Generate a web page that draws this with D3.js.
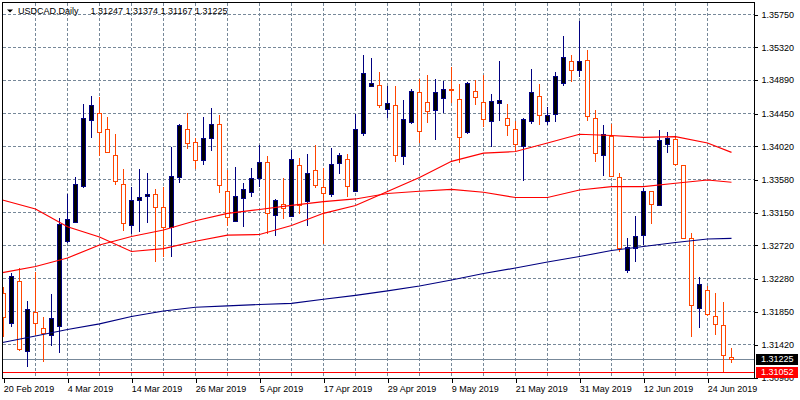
<html>
<head>
<script src="https://cdnjs.cloudflare.com/ajax/libs/d3/7.8.5/d3.min.js"></script>
<style>
  body { margin: 0; background: #fff; }
  text { font-family: "Liberation Sans", Arial, sans-serif; font-size: 9px; }
</style>
</head>
<body>
<script>

// ---- data (USDCAD daily, 20 Feb - 27 Jun 2019) ----
var opens = [1.32085,1.31692,1.32247,1.31324,1.31836,1.31626,1.31534,1.31660,1.32762,1.33017,
             1.33484,1.34350,1.34447,1.34237,1.33896,1.33516,1.32972,1.33313,1.33353,1.33384,
             1.33218,1.32951,1.33615,1.34237,1.34067,1.33830,1.34114,1.34303,1.33424,1.33034,
             1.33332,1.33405,1.33594,1.33804,1.33109,1.33253,1.33096,1.33765,1.33287,1.33699,
             1.33476,1.33379,1.33791,1.33844,1.33424,1.34185,1.34801,1.34814,1.34500,1.34552,
             1.33883,1.34337,1.34723,1.34591,1.34486,1.34657,1.34766,1.34631,1.34193,1.34736,
             1.34591,1.34342,1.34578,1.34382,1.34237,1.34022,1.34342,1.34670,1.34342,1.34434,
             1.34854,1.35129,1.35011,1.35142,1.34382,1.33909,1.34149,1.33607,1.32387,1.32676,
             1.32846,1.33424,1.33244,1.34053,1.34110,1.33765,1.32807,1.31888,1.32125,1.31784,
             1.31665,1.31247];
var highs = [1.32172,1.32356,1.32421,1.31984,1.32361,1.31778,1.32076,1.33069,1.33384,1.33607,
             1.34569,1.34674,1.34657,1.34395,1.34175,1.33712,1.33476,1.33716,1.33660,1.33454,
             1.33476,1.34001,1.34307,1.34455,1.34119,1.34395,1.34517,1.34425,1.33703,1.33746,
             1.33529,1.33729,1.34027,1.33887,1.33323,1.33598,1.33966,1.33865,1.33913,1.34027,
             1.33729,1.33992,1.33922,1.33913,1.34438,1.35212,1.35169,1.34989,1.34805,1.34805,
             1.34622,1.34766,1.34901,1.34946,1.34893,1.34871,1.35055,1.34832,1.34862,1.34884,
             1.34946,1.34700,1.35133,1.34565,1.34342,1.34389,1.35028,1.34832,1.34526,1.34993,
             1.35461,1.35212,1.35662,1.35278,1.34490,1.34294,1.34307,1.33668,1.32811,1.33100,
             1.33463,1.33432,1.34228,1.34202,1.34149,1.33773,1.32873,1.32303,1.32185,1.32085,
             1.31971,1.31374];
var lows  = [1.31508,1.31639,1.31332,1.31122,1.31538,1.31188,1.31398,1.31306,1.32741,1.33004,
             1.33471,1.34127,1.33891,1.33922,1.33510,1.32907,1.32863,1.32894,1.33012,1.32500,
             1.32566,1.32566,1.33529,1.33975,1.33720,1.33769,1.33956,1.33405,1.32968,1.33025,
             1.32959,1.33353,1.33484,1.32863,1.32841,1.33060,1.33090,1.33130,1.32972,1.33463,
             1.32732,1.33345,1.33651,1.33353,1.33414,1.34149,1.34796,1.34521,1.34382,1.33812,
             1.33773,1.34311,1.34061,1.34324,1.34093,1.34447,1.34586,1.33799,1.34175,1.34556,
             1.34271,1.34009,1.34350,1.34149,1.33956,1.33563,1.34311,1.34298,1.34290,1.34337,
             1.34809,1.34854,1.34927,1.34350,1.33812,1.33628,1.33611,1.32623,1.32356,1.32500,
             1.32719,1.32999,1.33235,1.33930,1.33760,1.32794,1.31516,1.31626,1.31788,1.31534,
             1.31052,1.31167];
var closes = [1.31770,1.32312,1.31351,1.31875,1.31692,1.31560,1.31757,1.32995,1.33056,1.33516,
             1.34382,1.34552,1.34198,1.33935,1.33555,1.33004,1.33306,1.33349,1.33384,1.33208,
             1.32959,1.33620,1.34294,1.34053,1.33834,1.34119,1.34303,1.33497,1.33083,1.33362,
             1.33450,1.33594,1.33804,1.33135,1.33306,1.33201,1.33847,1.33244,1.33660,1.33497,
             1.33397,1.33778,1.33896,1.33489,1.34237,1.34972,1.34845,1.34552,1.34578,1.33896,
             1.34368,1.34740,1.34211,1.34473,1.34723,1.34770,1.34758,1.34132,1.34841,1.34657,
             1.34368,1.34605,1.34618,1.34290,1.34035,1.34372,1.34723,1.34421,1.34421,1.34933,
             1.35190,1.35011,1.35129,1.34402,1.33922,1.34179,1.33628,1.32671,1.32689,1.32833,
             1.33424,1.33257,1.34093,1.34127,1.33778,1.32802,1.31928,1.32203,1.31810,1.31679,
             1.31272,1.31225];

// moving averages, read at every 4th bar (and the last one)
var maIdx  = [0,4,8,12,16,20,24,28,32,36,40,44,48,52,56,60,64,68,72,76,80,84,88,91];
var maFast = [1.33310,1.33191,1.32959,1.32824,1.32634,1.32671,1.32768,1.32848,1.32857,1.32975,
              1.33135,1.33237,1.33421,1.33605,1.33817,1.33924,1.33946,1.34057,1.34172,1.34156,
              1.34130,1.34140,1.34057,1.33935];
var maMid  = [1.32356,1.32437,1.32549,1.32719,1.32831,1.32916,1.33037,1.33135,1.33185,1.33240,
              1.33287,1.33323,1.33395,1.33424,1.33450,1.33411,1.33342,1.33342,1.33441,1.33484,
              1.33484,1.33529,1.33572,1.33542];
var maSlow = [1.31440,1.31525,1.31610,1.31683,1.31781,1.31853,1.31902,1.31919,1.31938,1.31954,
              1.32007,1.32059,1.32116,1.32181,1.32260,1.32345,1.32417,1.32496,1.32568,1.32647,
              1.32699,1.32752,1.32798,1.32807];

var priceTicks = [1.35750,1.35320,1.34890,1.34450,1.34020,1.33580,1.33150,1.32720,1.32280,1.31850,1.31420,1.30980];
var dateIdx    = [0,8,16,24,32,40,48,56,64,72,80,88];
var dateLabels = ["20 Feb 2019","4 Mar 2019","14 Mar 2019","26 Mar 2019","5 Apr 2019","17 Apr 2019",
                  "29 Apr 2019","9 May 2019","21 May 2019","31 May 2019","12 Jun 2019","24 Jun 2019"];
var bidPrice  = 1.31225;
var linePrice = 1.31052;
var headerText = "USDCAD,Daily";

// ---- layout ----
var W = 800, H = 400;
var plot = { left: 2.5, top: 2.5, right: 754.5, bottom: 378.5 };

var svg = d3.select("body").append("svg")
    .attr("width", W)
    .attr("height", H);

var x = d3.scaleLinear().domain([0, 91]).range([3.5, 731.5]);
var y = d3.scaleLinear().domain([1.30987, 1.35750]).range([377, 14]);
var py = function(v) { return Math.round(y(v)) + 0.5; };

svg.append("clipPath").attr("id", "plotclip")
   .append("rect")
   .attr("x", plot.left).attr("y", plot.top)
   .attr("width", plot.right - plot.left).attr("height", plot.bottom - plot.top);

var grid = svg.append("g")
    .attr("stroke", "#778899")
    .attr("stroke-dasharray", "3,2")
    .attr("shape-rendering", "crispEdges");

// horizontal grid
grid.selectAll("line.h").data(priceTicks).enter().append("line")
    .attr("x1", plot.left).attr("x2", plot.right)
    .attr("y1", function(d) { return py(d); })
    .attr("y2", function(d) { return py(d); });

// vertical grid, every 4 bars
var vIdx = d3.range(4, 92, 4);
grid.selectAll("line.v").data(vIdx).enter().append("line")
    .attr("x1", function(d) { return x(d); }).attr("x2", function(d) { return x(d); })
    .attr("y1", plot.top).attr("y2", plot.bottom);

var chart = svg.append("g").attr("clip-path", "url(#plotclip)");

// bid line and the red horizontal line
chart.append("line")
    .attr("x1", plot.left).attr("x2", plot.right)
    .attr("y1", py(bidPrice)).attr("y2", py(bidPrice))
    .attr("stroke", "#778899").attr("shape-rendering", "crispEdges");
chart.append("line")
    .attr("x1", plot.left).attr("x2", plot.right)
    .attr("y1", py(linePrice)).attr("y2", py(linePrice))
    .attr("stroke", "#ff0000").attr("shape-rendering", "crispEdges");

// candles
var bars = d3.range(opens.length).map(function(i) {
    return { i: i, o: opens[i], h: highs[i], l: lows[i], c: closes[i], up: closes[i] >= opens[i] };
});

var upCol = "#000080", downCol = "#ff4500";

chart.selectAll("line.wick").data(bars).enter().append("line")
    .attr("x1", function(d) { return x(d.i); }).attr("x2", function(d) { return x(d.i); })
    .attr("y1", function(d) { return Math.round(y(d.h)); })
    .attr("y2", function(d) { return Math.round(y(d.l)); })
    .attr("stroke", function(d) { return d.up ? upCol : downCol; })
    .attr("shape-rendering", "crispEdges");

chart.selectAll("rect.body").data(bars).enter().append("rect")
    .attr("x", function(d) { return x(d.i) - 2; })
    .attr("width", 4)
    .attr("y", function(d) { return Math.round(y(Math.max(d.o, d.c))) + 0.5; })
    .attr("height", function(d) { return Math.max(1, Math.round(Math.abs(y(d.o) - y(d.c)))); })
    .attr("fill", function(d) { return d.up ? "#000000" : "#ffffff"; })
    .attr("stroke", function(d) { return d.up ? upCol : downCol; })
    .attr("shape-rendering", "crispEdges");

// moving averages
var maLine = function(vals) {
    return d3.line()
        .x(function(d, i) { return i === 0 ? plot.left : x(maIdx[i]); })
        .y(function(d) { return y(d); })(vals);
};
chart.append("path").attr("d", maLine(maFast)).attr("fill", "none").attr("stroke", "#ff0000").attr("stroke-width", 1.2);
chart.append("path").attr("d", maLine(maMid)).attr("fill", "none").attr("stroke", "#ff0000").attr("stroke-width", 1.2);
chart.append("path").attr("d", maLine(maSlow)).attr("fill", "none").attr("stroke", "#000080").attr("stroke-width", 1.2);

// frame
svg.append("rect")
    .attr("x", plot.left).attr("y", plot.top)
    .attr("width", plot.right - plot.left).attr("height", plot.bottom - plot.top)
    .attr("fill", "none").attr("stroke", "#000").attr("shape-rendering", "crispEdges");

// right price axis
var yAxis = d3.axisRight(y)
    .tickValues(priceTicks)
    .tickFormat(d3.format(".5f"))
    .tickSize(3)
    .tickPadding(4);
var ya = svg.append("g").attr("transform", "translate(" + plot.right + ",0.5)").call(yAxis);
ya.select(".domain").remove();
ya.selectAll("text").attr("font-family", "Liberation Sans, Arial, sans-serif").attr("font-size", 9).attr("fill", "#000");
ya.selectAll("line").attr("stroke", "#000").attr("shape-rendering", "crispEdges");

// bottom date axis
var xAxis = d3.axisBottom(x)
    .tickValues(dateIdx)
    .tickFormat(function(d, i) { return dateLabels[i]; })
    .tickSize(4)
    .tickPadding(3);
var xa = svg.append("g").attr("transform", "translate(0," + plot.bottom + ")").call(xAxis);
xa.select(".domain").remove();
xa.selectAll("text").attr("text-anchor", "start").attr("dx", -0.3)
  .attr("font-family", "Liberation Sans, Arial, sans-serif").attr("font-size", 9).attr("fill", "#000");
xa.selectAll("line").attr("stroke", "#000").attr("shape-rendering", "crispEdges");

// price label boxes
function priceBox(v, bg) {
    var cy = y(v);
    svg.append("rect")
        .attr("x", 756).attr("y", Math.round(cy) - 5)
        .attr("width", 42).attr("height", 11)
        .attr("fill", bg);
    svg.append("text")
        .attr("x", 761).attr("y", cy).attr("dy", "0.34em")
        .attr("fill", "#fff")
        .text(d3.format(".5f")(v));
}
priceBox(bidPrice, "#000000");
priceBox(linePrice, "#ff0000");

// header
svg.append("path").attr("d", "M7,9.5 L13,9.5 L10,12.5 Z").attr("fill", "#000");
svg.append("text").attr("x", 18).attr("y", 13.5).attr("fill", "#000").text(headerText);
var last = opens.length - 1;
svg.append("text").attr("x", 90.5).attr("y", 13.5).attr("fill", "#000")
    .text([opens[last], highs[last], lows[last], closes[last]].map(d3.format(".5f")).join(" "));

</script>
</body>
</html>
